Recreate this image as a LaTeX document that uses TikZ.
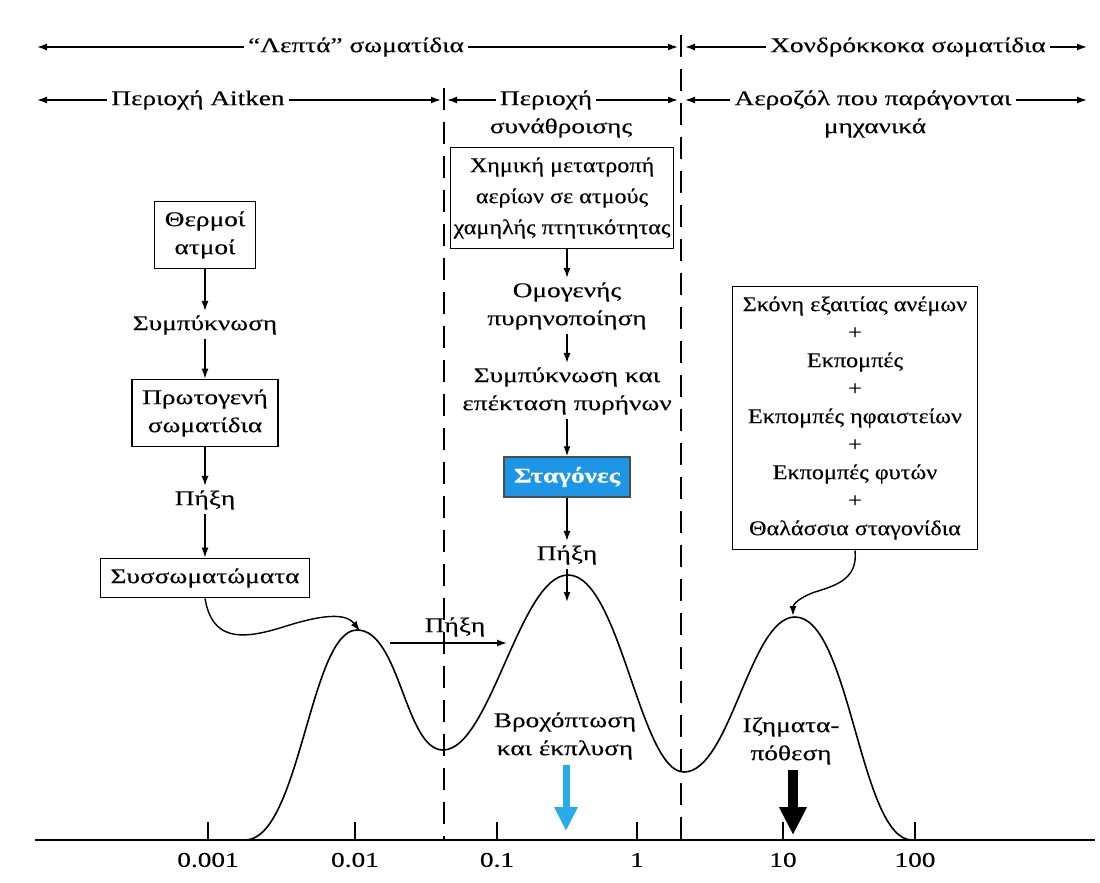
\documentclass[tikz,border=0pt]{standalone}
\usepackage{fontspec}
\setmainfont{Liberation Serif}[FakeStretch=1.3,FakeBold=0.3]
\newfontfamily\narrowfont{Liberation Serif}[FakeStretch=1.15,FakeBold=0.3]
\usetikzlibrary{arrows.meta}
\definecolor{stagblue}{RGB}{30,150,232}
\definecolor{rainblue}{RGB}{40,170,235}
\begin{document}
\begin{tikzpicture}[x=0.5pt,y=-0.5pt,
  every node/.style={font=\fontsize{10.5pt}{14pt}\selectfont, inner sep=2pt, align=center},
  box/.style={draw, line width=0.7pt, inner xsep=5pt, inner ysep=5pt},
  arr/.style={line width=0.7pt, -{Latex[length=5pt,width=3.5pt]}},
  dashline/.style={dash pattern=on 11pt off 6pt, line width=0.9pt},
  curve/.style={line width=0.8pt},
]
\useasboundingbox (0,0) rectangle (1100,883);

% top rows
\node (t1) at (356,47) {“Λεπτά” σωματίδια};
\coordinate (t1L) at (37,47); \coordinate (t1R) at (678,47);
\draw[arr] (t1.west) -- (t1L); \draw[arr] (t1.east) -- (t1R);
\node (t2) at (908,47) {Χονδρόκκοκα σωματίδια};
\coordinate (t2L) at (685,47); \coordinate (t2R) at (1087,47);
\draw[arr] (t2.west) -- (t2L); \draw[arr] (t2.east) -- (t2R);

\node (r1) at (198,100) {Περιοχή Aitken};
\coordinate (r1L) at (37,100); \coordinate (r1R) at (441,100);
\draw[arr] (r1.west) -- (r1L); \draw[arr] (r1.east) -- (r1R);
\node (r2) at (546,100) {Περιοχή};
\node (r2b) at (561,128) {συνάθροισης};
\coordinate (r2L) at (447,100); \coordinate (r2R) at (678,100);
\draw[arr] (r2.west) -- (r2L); \draw[arr] (r2.east) -- (r2R);
\node (r3) at (873,100) {Αεροζόλ που παράγονται};
\node (r3b) at (875,128) {μηχανικά};
\coordinate (r3L) at (685,100); \coordinate (r3R) at (1087,100);
\draw[arr] (r3.west) -- (r3L); \draw[arr] (r3.east) -- (r3R);

% dashed separators
\coordinate (d1t) at (444,88); \coordinate (d1b) at (444,840);
\coordinate (d2t) at (681,35); \coordinate (d2b) at (681,840);
\draw[dashline] (d1t) -- (d1b);
\draw[dashline] (d2t) -- (d2b);

% left column
\node[box] (therm) at (205,235) {Θερμοί\\ατμοί};
\node (symp1) at (205,325) {Συμπύκνωση};
\node[box] (proto) at (205,413) {Πρωτογενή\\σωματίδια};
\node (pix1) at (205,500) {Πήξη};
\node[box] (sys) at (205,578) {Συσσωματώματα};
\draw[arr] (therm) -- (symp1);
\draw[arr] (symp1) -- (proto);
\draw[arr] (proto) -- (pix1);
\draw[arr] (pix1) -- (sys);

% middle column
\node[box, inner xsep=1.5pt, font=\fontsize{10.5pt}{15.5pt}\selectfont\narrowfont] (chem) at (562,198) {Χημική μετατροπή\\αερίων σε ατμούς\\χαμηλής πτητικότητας};
\node (omog) at (567,306) {Ομογενής\\πυρηνοποίηση};
\node (symp2) at (567,391) {Συμπύκνωση και\\επέκταση πυρήνων};
\node[box, fill=stagblue, draw=black!70, text=white, font=\fontsize{10.5pt}{14pt}\selectfont\bfseries] (stag) at (567,477) {Σταγόνες};
\node (pix2) at (567,555) {Πήξη};
\coordinate (pk2a) at (567,602);
\draw[arr] (omog |- chem.south) -- (omog);
\draw[arr] (omog) -- (symp2);
\draw[arr] (symp2) -- (stag);
\draw[arr] (stag) -- (pix2);
\draw[arr] (pix2) -- (pk2a);

\node (pix3) at (455,627) {Πήξη};
\coordinate (ha1) at (390,643); \coordinate (ha2) at (507,643);
\draw[arr] (ha1) -- (ha2);

% right column
\node[box, font=\fontsize{10.5pt}{14pt}\selectfont\narrowfont] (src) at (855,418) {Σκόνη εξαιτίας ανέμων\\+\\Εκπομπές\\+\\Εκπομπές ηφαιστείων\\+\\Εκπομπές φυτών\\+\\Θαλάσσια σταγονίδια};
\coordinate (pk3a) at (793,616);
\draw[arr] (src.south) .. controls (858,578) and (838,585) .. (815,592) .. controls (798,598) and (793,605) .. (pk3a);

\coordinate (pk1a) at (360,631);
\draw[arr] (sys.south) .. controls (212,640) and (240,640) .. (280,628) .. controls (320,615) and (345,612) .. (pk1a);

% distribution curve
\draw[curve] (245,840) .. controls (300,840) and (310,630) .. (357,630)
  .. controls (400,630) and (405,750) .. (443,750)
  .. controls (490,750) and (520,575) .. (568,575)
  .. controls (620,575) and (640,772) .. (684,772)
  .. controls (730,772) and (750,617) .. (795,617)
  .. controls (850,617) and (860,840) .. (912,840);

% removal labels and arrows
\node (vroch) at (565,736) {Βροχόπτωση\\και έκπλυση};
\coordinate (ba1) at (566,765); \coordinate (ba2) at (566,831);
\draw[rainblue, line width=3.5pt, -{Triangle[length=12pt,width=11pt]}] (ba1) -- (ba2);
\node (izim) at (791,741) {Ιζηματα-\\πόθεση};
\coordinate (ka1) at (793,770); \coordinate (ka2) at (793,835);
\draw[black, line width=5pt, -{Triangle[length=14pt,width=13pt]}] (ka1) -- (ka2);

% axis
\coordinate (ax0) at (35,840); \coordinate (ax1) at (1095,840);
\draw[line width=1pt] (ax0) -- (ax1);
\foreach \xx/\lab in {208/0.001, 355/0.01, 497/0.1, 637/1, 783/10, 915/100}{
  \draw[line width=0.8pt] (\xx,840) -- (\xx,822);
  \node at (\xx,860) {\lab};
}
\end{tikzpicture}
\end{document}
